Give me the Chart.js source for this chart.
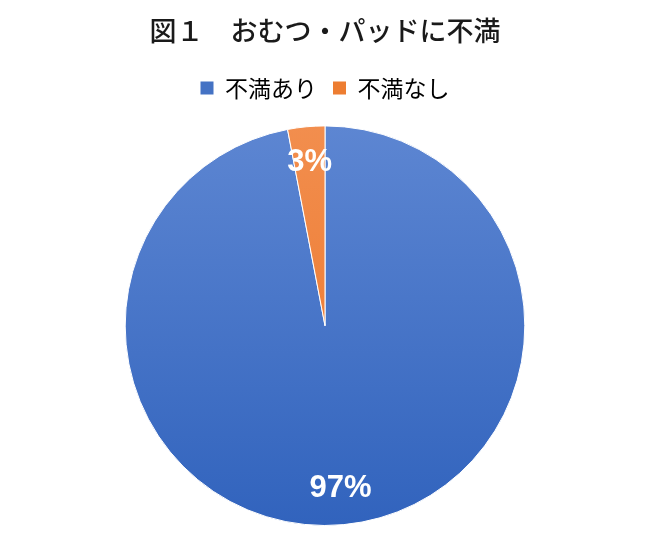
<!DOCTYPE html>
<html lang="ja">
<head>
<meta charset="utf-8">
<title>図１　おむつ・パッドに不満</title>
<script src="https://cdn.jsdelivr.net/npm/chart.js@4"></script>
<style>
  html, body { margin: 0; padding: 0; background: #fff; }
  #wrap { width: 650px; height: 538px; position: relative; }
</style>
</head>
<body>
<div id="wrap"><canvas id="pieChart"></canvas></div>
<script>
// データ
const categories = ['不満あり', '不満なし'];
const percentValues = [97, 3];
const sliceColors = ['#4472C4', '#ED7D31'];
const sliceLight = ['#5D86D2', '#F28E4E'];
const sliceDark = ['#3163BD', '#EA7326'];

// 扇形のグラデーション（上が明るく下が暗い）
function sliceFill(context) {
    const chart = context.chart;
    const area = chart.chartArea;
    if (!area) return sliceColors[context.dataIndex];
    const i = context.dataIndex;
    const g = chart.ctx.createLinearGradient(0, area.top, 0, area.bottom);
    g.addColorStop(0, sliceLight[i]);
    g.addColorStop(1, sliceDark[i]);
    return g;
}

// 凡例の下に余白を足す
const legendGap = {
    id: 'legendGap',
    beforeInit(chart) {
        const origFit = chart.legend.fit;
        chart.legend.fit = function () {
            origFit.bind(chart.legend)();
            this.height += 16;
        };
    }
};

// ラベル（パーセント）を扇形の内側に描く
const pctLabels = {
    id: 'pctLabels',
    afterDatasetsDraw(chart) {
        const ctx = chart.ctx;
        const meta = chart.getDatasetMeta(0);
        ctx.save();
        ctx.fillStyle = '#ffffff';
        ctx.font = 'bold 31px "Liberation Sans", Arial, sans-serif';
        ctx.textAlign = 'center';
        ctx.textBaseline = 'middle';
        meta.data.forEach(function (arc, i) {
            const p = arc.getProps(['x', 'y', 'startAngle', 'endAngle', 'outerRadius'], true);
            const mid = (p.startAngle + p.endAngle) / 2;
            const r = p.outerRadius * 0.82;
            ctx.fillText(percentValues[i] + '%', p.x + Math.cos(mid) * r, p.y + Math.sin(mid) * r);
        });
        ctx.restore();
    }
};

const ctx = document.getElementById('pieChart').getContext('2d');
new Chart(ctx, {
    type: 'pie',
    data: {
        labels: categories,
        datasets: [{
            data: percentValues,
            backgroundColor: sliceFill,
            borderColor: '#ffffff',
            borderWidth: 1
        }]
    },
    options: {
        responsive: true,
        maintainAspectRatio: false,
        animation: false,
        layout: { padding: { top: 11, bottom: 12, left: 0, right: 0 } },
        plugins: {
            title: {
                display: true,
                text: '図１　おむつ・パッドに不満',
                color: '#1a1a1a',
                font: { family: '"Noto Sans CJK JP"', size: 27, weight: '500' },
                padding: { top: 4, bottom: 13 }
            },
            legend: {
                position: 'top',
                labels: {
                    color: '#333333',
                    font: { family: '"Noto Sans CJK JP"', size: 23 },
                    boxWidth: 13,
                    boxHeight: 13,
                    padding: 16,
                    generateLabels(chart) {
                        return categories.map(function (c, i) {
                            return {
                                text: c,
                                fillStyle: sliceColors[i],
                                strokeStyle: sliceColors[i],
                                lineWidth: 0,
                                index: i,
                                datasetIndex: 0
                            };
                        });
                    }
                }
            },
            tooltip: { enabled: false }
        }
    },
    plugins: [legendGap, pctLabels]
});
</script>
</body>
</html>
